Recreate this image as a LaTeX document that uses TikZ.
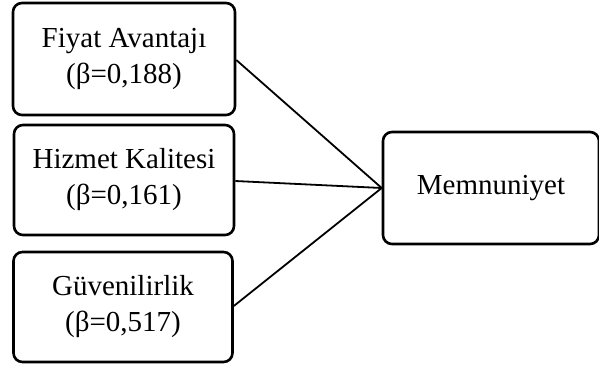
\documentclass[tikz,border=0pt]{standalone}
\usepackage{fontspec}
\setmainfont{Liberation Serif}
\begin{document}
\begin{tikzpicture}[x=1pt,y=-1pt,
  box/.style={draw=black,line width=2.6pt,rounded corners=9pt,inner sep=0pt,
    align=center,font=\fontsize{29}{36}\selectfont},
  conn/.style={draw=black,line width=1.8pt}]
\useasboundingbox (0,0) rectangle (599,368);
\node[box,minimum width=222pt,minimum height=112pt] (fa) at (124,59) {Fiyat Avantajı\\(β=0,188)};
\node[box,minimum width=220pt,minimum height=110pt] (hk) at (124,180) {Hizmet Kalitesi\\(β=0,161)};
\node[box,minimum width=219pt,minimum height=110pt] (gv) at (123,307) {Güvenilirlik\\(β=0,517)};
\node[box,minimum width=216pt,minimum height=112pt] (mm) at (491,188) {Memnuniyet};
\coordinate (c) at (mm.west);
\draw[conn] (fa.east |- 0,60) -- (c);
\draw[conn] (hk.east |- 0,181) -- (c);
\draw[conn] (gv.east |- 0,306) -- (c);
\end{tikzpicture}
\end{document}
